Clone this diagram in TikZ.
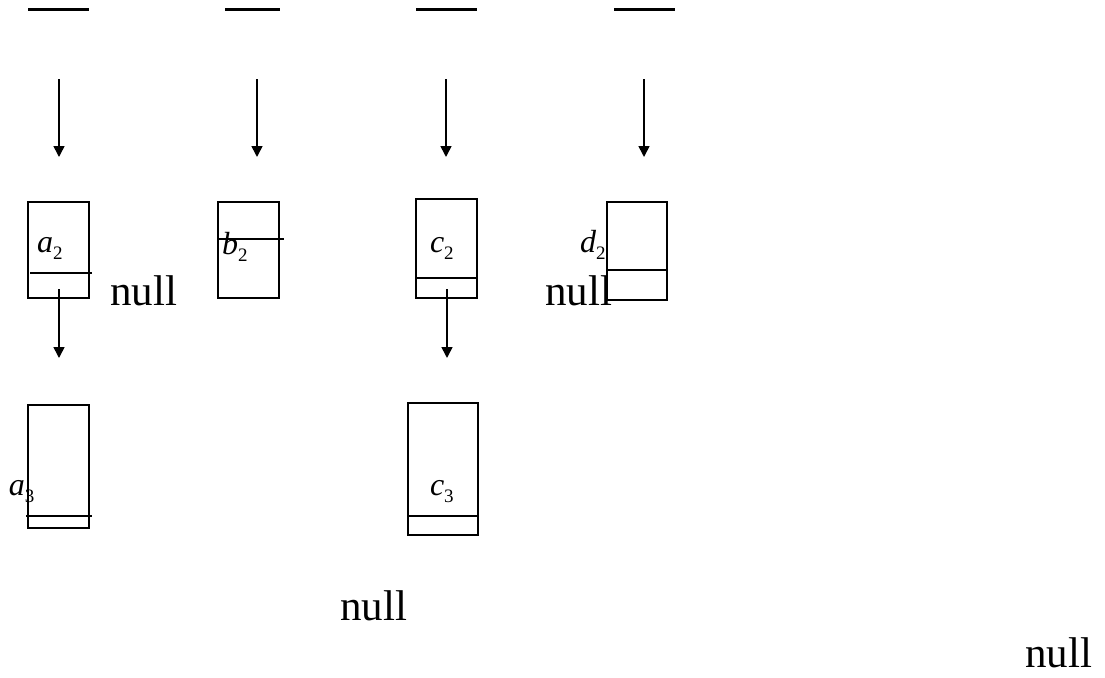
\documentclass[tikz,border=0pt]{standalone}
\usepackage{fontspec}
\setmainfont{Liberation Serif}
\usetikzlibrary{arrows.meta}
\newcommand{\lbl}[2]{{\fontsize{32}{32}\selectfont\itshape #1}\raisebox{-7pt}{\fontsize{19}{19}\selectfont #2}}
\tikzset{
  cell/.style={draw, line width=2.5pt, rectangle, inner sep=0pt},
  bar/.style={line width=2.5pt},
  topbar/.style={line width=3pt},
  ptr/.style={line width=1.6pt, -{Triangle[length=11pt,width=11pt]}},
  lab/.style={anchor=base west, inner sep=0pt, outer sep=0pt},
  nulltxt/.style={anchor=base west, inner sep=0pt, font=\fontsize{43}{43}\selectfont}
}
\begin{document}
\begin{tikzpicture}[x=1pt,y=-1pt]
\useasboundingbox (0,0) rectangle (1105,677);
% top bars
\draw[topbar] (28,10) -- (89,10);
\draw[topbar] (225,10) -- (280,10);
\draw[topbar] (416,10) -- (477,10);
\draw[topbar] (614,10) -- (675,10);
% arrow coordinates
\coordinate (s1) at (59,79);  \coordinate (e1) at (59,157);
\coordinate (s2) at (257,79); \coordinate (e2) at (257,157);
\coordinate (s3) at (446,79); \coordinate (e3) at (446,157);
\coordinate (s4) at (644,79); \coordinate (e4) at (644,157);
\draw[ptr] (s1) -- (e1);
\draw[ptr] (s2) -- (e2);
\draw[ptr] (s3) -- (e3);
\draw[ptr] (s4) -- (e4);
% row 1 boxes
\node[cell, minimum width=61, minimum height=96] (a2) at (58.5,250) {};
\node[cell, minimum width=61, minimum height=96] (b2) at (248.5,250) {};
\node[cell, minimum width=61, minimum height=99] (c2) at (446.5,248.5) {};
\node[cell, minimum width=60, minimum height=98] (d2) at (637,251) {};
\draw[bar] (30,273) -- (92,273);
\draw[bar] (218,239) -- (284,239);
\draw[bar] (416,278) -- (477,278);
\draw[bar] (607,270) -- (667,270);
\node[lab] (la2) at (37,252) {\lbl{a}{2}};
\node[lab] (lb2) at (222,254) {\lbl{b}{2}};
\node[lab] (lc2) at (430,252) {\lbl{c}{2}};
\node[lab] (ld2) at (580,252) {\lbl{d}{2}};
\node[nulltxt] (n1) at (110,305) {null};
\node[nulltxt] (n2) at (545,305) {null};
% row 2 boxes
\node[cell, minimum width=61, minimum height=123] (a3) at (58.5,466.5) {};
\node[cell, minimum width=70, minimum height=132] (c3) at (443,469) {};
\draw[bar] (26,516) -- (92,516);
\draw[bar] (408,516) -- (478,516);
\node[lab] (la3) at (9,495) {\lbl{a}{3}};
\node[lab] (lc3) at (430,495) {\lbl{c}{3}};
% arrows between rows
\coordinate (p1) at (59,289); \coordinate (q1) at (59,358);
\coordinate (p2) at (447,289); \coordinate (q2) at (447,358);
\draw[ptr] (p1) -- (q1);
\draw[ptr] (p2) -- (q2);
% bottom nulls
\node[nulltxt] (n3) at (340,620) {null};
\node[nulltxt] (n4) at (1025,667) {null};
\end{tikzpicture}
\end{document}
